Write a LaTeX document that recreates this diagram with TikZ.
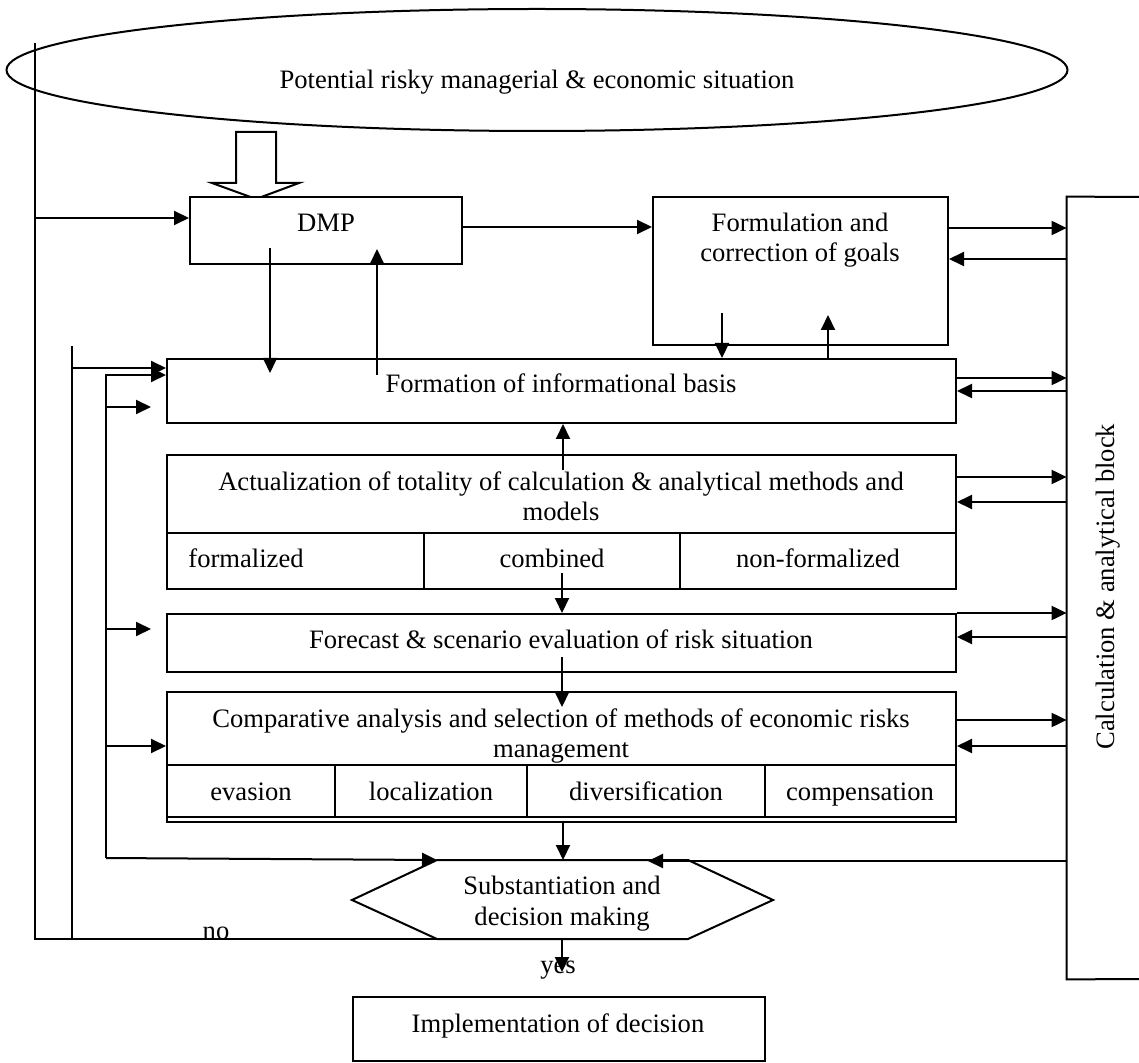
\documentclass[tikz,border=0pt]{standalone}
\usepackage{fontspec}
\setmainfont{Liberation Serif}
\usetikzlibrary{arrows.meta,shapes.geometric,fit}
\begin{document}
\begin{tikzpicture}[x=0.5pt,y=-0.5pt,
  box/.style={draw,line width=1pt,inner sep=0pt,fill=white},
  cell/.style={draw,line width=0.7pt,inner sep=0pt},
  lbl/.style={inner sep=0pt,font=\fontsize{13.3}{15.5}\selectfont},
  arr/.style={line width=1pt,-{Triangle[length=7.5pt,width=7pt]}},
  ln/.style={line width=1pt}]
\useasboundingbox (0,0) rectangle (1139,1063);
% situation ellipse
\node[draw,ellipse,line width=1pt,minimum width=530.5pt,minimum height=61pt,inner sep=0pt] (sit) at (537,70) {};
\node[lbl,anchor=base] (sitT) at (537,89) {Potential risky managerial \& economic situation};
% hollow block arrow
\draw[line width=1pt,fill=white] (236,132) -- (276,132) -- (276,183) -- (299,183) -- (256,199) -- (212,183) -- (236,183) -- cycle;
% boxes
\node[box,fit={(190,197) (462,264)}] (dmp) {};
\node[lbl,anchor=base] (dmpT) at (326,232) {DMP};
\node[box,fit={(653,197) (948,345)}] (goal) {};
\node[lbl,anchor=base] (goalT1) at (800,232) {Formulation and};
\node[lbl,anchor=base] (goalT2) at (800,262) {correction of goals};
\node[box,fit={(167,359) (956,423)}] (form) {};
\node[lbl,anchor=base] (formT) at (561,393) {Formation of informational basis};
\node[box,fit={(167,455) (956,589)}] (act) {};
\node[lbl,anchor=base] (actT1) at (561,490) {Actualization of totality of calculation \& analytical methods and};
\node[lbl,anchor=base] (actT2) at (561,520) {models};
\node[cell,fit={(167,533) (424,589)}] (actF) {};
\node[cell,fit={(424,533) (680,589)}] (actC) {};
\node[cell,fit={(680,533) (956,589)}] (actN) {};
\node[lbl,anchor=base west] (actFT) at (188,567) {formalized};
\node[lbl,anchor=base] (actCT) at (552,567) {combined};
\node[lbl,anchor=base] (actNT) at (818,567) {non-formalized};
\node[box,fit={(167,614) (956,672)}] (fc) {};
\node[lbl,anchor=base] (fcT) at (561,648) {Forecast \& scenario evaluation of risk situation};
\node[box,fit={(167,692) (956,822)}] (comp) {};
\node[lbl,anchor=base] (compT1) at (561,727) {Comparative analysis and selection of methods of economic risks};
\node[lbl,anchor=base] (compT2) at (561,757) {management};
\node[cell,fit={(167,765) (335,817)}] (c1) {};
\node[cell,fit={(335,765) (527,817)}] (c2) {};
\node[cell,fit={(527,765) (765,817)}] (c3) {};
\node[cell,fit={(765,765) (956,817)}] (c4) {};
\node[lbl,anchor=base] (c1T) at (251,800) {evasion};
\node[lbl,anchor=base] (c2T) at (431,800) {localization};
\node[lbl,anchor=base] (c3T) at (646,800) {diversification};
\node[lbl,anchor=base] (c4T) at (860,800) {compensation};
% calculation block
\node[inner sep=0pt,fit={(1067,197) (1139,979)}] (calc) {};
\draw[ln] (1139,197) -- (calc.north west) -- (calc.south west) -- (1139,979);
\node[lbl,rotate=90,anchor=base west] (calcT) at (1114,750) {Calculation \& analytical block};
% hexagon
\coordinate (hTL) at (437,860);
\coordinate (hTR) at (688,860);
\coordinate (hR) at (773,900);
\coordinate (hBR) at (688,939);
\coordinate (hBL) at (437,939);
\coordinate (hL) at (352,900);
\draw[line width=1pt] (hTL) -- (hTR) -- (hR) -- (hBR) -- (hBL) -- (hL) -- cycle;
\node[lbl,anchor=base] (hexT1) at (562,894) {Substantiation and};
\node[lbl,anchor=base] (hexT2) at (562,925) {decision making};
% implementation
\node[box,fit={(353,997) (765,1061)}] (impl) {};
\node[lbl,anchor=base] (implT) at (558,1032) {Implementation of decision};
\node[lbl,anchor=base] (yesT) at (558,973) {yes};
\node[lbl,anchor=base] (noT) at (216,939) {no};
% left feedback lines
\draw[ln] (35,43) -- (35,939) -- (hBL);
\draw[arr] (35,218) -- (dmp.west |- 0,218);
\draw[ln] (72,346) -- (72,939);
\draw[arr] (72,368) -- (form.west |- 0,368);
\draw[arr] (106,858) -- (106,375) -- (form.west |- 0,375);
\draw[arr] (106,407) -- (151,407);
\draw[arr] (106,629) -- (151,629);
\draw[arr] (106,746) -- (comp.west |- 0,746);
\draw[arr] (106,858) -- (hTL);
% DMP links
\draw[arr] (270,248) -- (270,373);
\draw[arr] (377,375) -- (377,249);
\draw[arr] (dmp.east |- 0,227) -- (goal.west |- 0,227);
% goal links
\draw[arr] (goal.east |- 0,228) -- (calc.west |- 0,228);
\draw[arr] (calc.west |- 0,259) -- (goal.east |- 0,259);
\draw[arr] (722,313) -- (722,0 |- form.north);
\draw[arr] (828,0 |- form.north) -- (828,315);
% formation links
\draw[arr] (form.east |- 0,378) -- (calc.west |- 0,378);
\draw[arr] (calc.west |- 0,391) -- (form.east |- 0,391);
\draw[arr] (563,470) -- (563,0 |- form.south);
% actualization links
\draw[arr] (act.east |- 0,477) -- (calc.west |- 0,477);
\draw[arr] (calc.west |- 0,502) -- (act.east |- 0,502);
\draw[arr] (562,573) -- (562,0 |- fc.north);
% forecast links
\draw[arr] (fc.east |- 0,613) -- (calc.west |- 0,613);
\draw[arr] (calc.west |- 0,637) -- (fc.east |- 0,637);
\draw[arr] (562,657) -- (562,707);
% comparative links
\draw[arr] (comp.east |- 0,720) -- (calc.west |- 0,720);
\draw[arr] (calc.west |- 0,746) -- (comp.east |- 0,746);
\draw[arr] (563,0 |- comp.south) -- (hTL -| 563,0);
% calc to hexagon
\draw[arr] (calc.west |- 0,861) -- (648,861);
% hexagon to implementation
\draw[arr] (562,0 |- hBL) -- (562,972);
\end{tikzpicture}
\end{document}
